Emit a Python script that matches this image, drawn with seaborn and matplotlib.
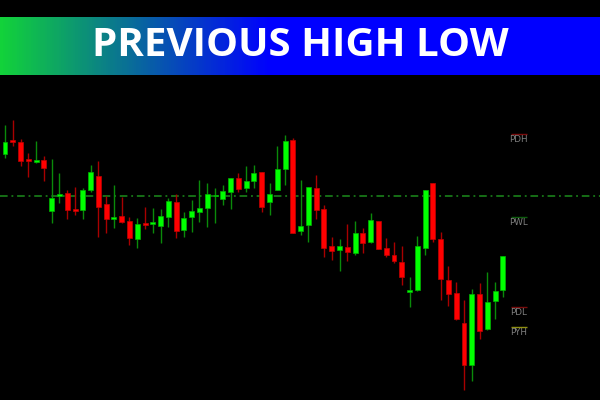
import numpy as np
import pandas as pd
import matplotlib
matplotlib.use("Agg")
import matplotlib.pyplot as plt
from matplotlib.colors import LinearSegmentedColormap
import seaborn as sns

# OHLC (arbitrary price units)
opens = [245.7, 260.3, 258.3, 241.0, 238.3, 240.0, 189.3, 203.7, 207.3, 191.0,
         190.3, 210.0, 224.0, 195.7, 180.7, 183.7, 179.0, 161.0, 176.0, 176.0,
         174.3, 183.3, 197.7, 170.0, 183.3, 188.3, 192.3, 203.7, 201.0, 208.3,
         222.3, 211.7, 219.3, 227.7, 197.7, 210.0, 231.0, 260.0, 169.3, 175.3,
         212.0, 191.0, 154.0, 150.0, 152.7, 147.3, 167.3, 157.7, 179.0, 152.0,
         145.0, 138.0, 108.0, 110.0, 152.3, 216.7, 161.0, 120.0, 106.7, 76.7,
         35.0, 105.7, 70.7, 99.0, 110.0]
highs = [275.0, 280.0, 260.7, 247.3, 259.3, 244.0, 241.0, 226.7, 209.7, 212.7,
         212.3, 235.0, 239.0, 204.0, 215.0, 203.3, 183.3, 181.7, 192.7, 191.7,
         190.7, 201.7, 206.0, 188.0, 200.0, 220.0, 217.3, 211.7, 215.0, 221.7,
         226.7, 234.0, 235.0, 227.7, 217.3, 254.3, 265.0, 261.7, 220.0, 212.7,
         225.0, 195.0, 162.7, 160.7, 176.0, 179.0, 171.7, 186.7, 179.0, 161.7,
         158.3, 154.0, 122.7, 164.0, 210.0, 216.7, 168.3, 134.0, 118.3, 100.0,
         111.0, 116.7, 128.3, 118.3, 144.0]
lows = [241.7, 254.3, 234.0, 223.3, 236.7, 219.3, 176.7, 196.7, 181.3, 185.0,
        181.0, 207.7, 163.3, 166.7, 172.3, 177.0, 155.0, 152.3, 170.7, 166.7,
        157.3, 173.3, 161.7, 163.3, 168.3, 178.3, 173.3, 177.3, 195.0, 190.7,
        208.3, 208.3, 211.7, 188.3, 185.0, 210.0, 215.0, 166.7, 165.0, 158.3,
        180.7, 143.3, 140.0, 129.0, 139.0, 145.0, 146.7, 156.7, 151.0, 143.0,
        137.0, 115.0, 92.7, 109.3, 145.0, 158.3, 100.0, 94.0, 80.0, 10.0,
        19.3, 61.0, 70.0, 80.7, 103.3]
closes = [258.3, 258.3, 239.3, 239.3, 239.7, 232.3, 201.7, 206.0, 190.0, 189.0,
          209.7, 227.7, 193.3, 181.0, 183.0, 178.3, 161.7, 175.7, 175.0, 177.0,
          184.0, 198.7, 169.3, 181.7, 189.3, 191.7, 206.0, 204.7, 209.0, 221.7,
          211.3, 219.0, 227.3, 193.3, 206.0, 231.0, 259.0, 166.7, 173.7, 212.7,
          190.3, 152.3, 149.3, 154.0, 148.3, 166.7, 156.7, 180.0, 151.0, 145.0,
          139.0, 123.3, 109.0, 154.0, 210.0, 161.0, 120.7, 106.0, 81.3, 35.0,
          106.0, 69.3, 98.0, 109.0, 144.0]

# key levels (right side markers) and the dash-dot level line
level_names = ["PDH", "PWL", "PDL", "PYH"]
level_values = [265.7, 183.3, 93.0, 73.3]
level_colors = ["#7a0c0c", "#0c5c0c", "#7a0c0c", "#8f8f10"]
dash_level = 203.7

title = "PREVIOUS HIGH LOW"

df = pd.DataFrame({"open": opens, "high": highs, "low": lows, "close": closes})
df["idx"] = np.arange(len(df))
df["up"] = df["close"] >= df["open"]

sns.set_theme(style="dark", rc={
    "axes.facecolor": "black",
    "figure.facecolor": "black",
    "axes.edgecolor": "black",
})

fig = plt.figure(figsize=(6, 4), dpi=100)

# candle area
ax = fig.add_axes([0, 0, 1, 325 / 400])
ax.set_facecolor("black")

bull, bear = "#00ff00", "#ff0000"
bull_wick, bear_wick = "#0a8a0a", "#a80000"

wick_cols = np.where(df["up"], bull_wick, bear_wick)
ax.vlines(df["idx"], df["low"], df["high"], colors=wick_cols, linewidth=1.0, zorder=2)

bottoms = df[["open", "close"]].min(axis=1)
heights = (df["close"] - df["open"]).abs().clip(lower=1.6)
body_cols = np.where(df["up"], bull, bear)
edge_cols = np.where(df["up"], "#00b000", "#c00000")
ax.bar(df["idx"], heights, bottom=bottoms, width=0.64, color=body_cols,
       edgecolor=edge_cols, linewidth=0.5, zorder=3)

ax.axhline(dash_level, color="#1c8c1c", linewidth=1.1,
           linestyle=(0, (5, 2.5, 1.2, 2.5)), zorder=1)

for name, val, col in zip(level_names, level_values, level_colors):
    ax.hlines(val, 65.0, 67.1, colors=col, linewidth=1.0)
    ax.text(66.05, val - 1.2, name, color="#808080", fontsize=6.3,
            ha="center", va="top", family="DejaVu Sans")

ax.set_xlim(-0.643, 76.48)
ax.set_ylim(0, 325)
ax.set_xticks([])
ax.set_yticks([])
for s in ax.spines.values():
    s.set_visible(False)
ax.grid(False)

# gradient banner
bax = fig.add_axes([0, 325 / 400, 1, 58 / 400])
cmap = LinearSegmentedColormap.from_list(
    "banner", [(0.0, "#12d23a"), (0.45, "#0000ff"), (1.0, "#0000ff")])
grad = np.linspace(0, 1, 600).reshape(1, -1)
bax.imshow(grad, aspect="auto", cmap=cmap, extent=[0, 1, 0, 1])
bax.set_xlim(0, 1)
bax.set_ylim(0, 1)
bax.axis("off")
bax.text(0.5, 0.5, title, color="white", fontsize=29, fontweight="bold",
         family="Open Sans", ha="center", va="center")

fig.savefig("out.png", dpi=100, facecolor="black")
